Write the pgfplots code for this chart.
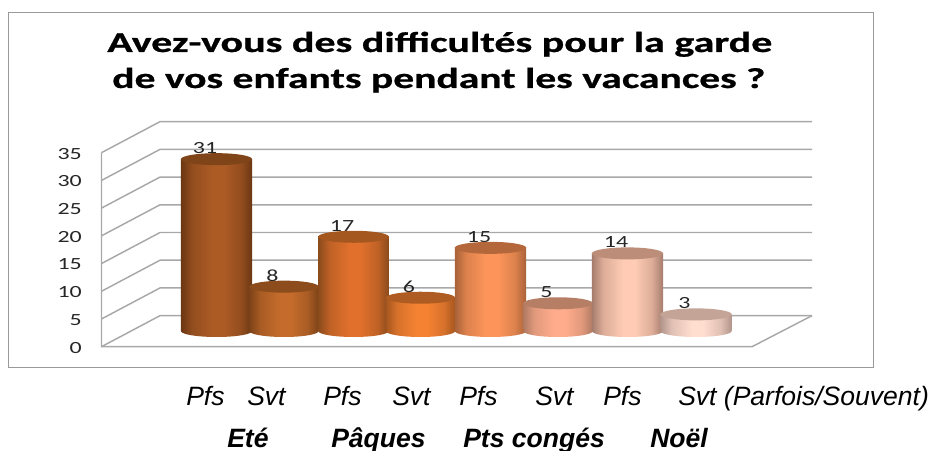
\documentclass[border=0pt]{standalone}
\usepackage{fontspec}
\usepackage{graphicx}
\usepackage{pgfplots}
\pgfplotsset{compat=1.18}
\usetikzlibrary{shapes.geometric}
\setmainfont{Liberation Sans}
\newfontfamily\carl[BoldFeatures={FakeBold=0.6}]{Carlito}
\newfontfamily\lab[FakeStretch=1.4]{Carlito}
\definecolor{gridc}{HTML}{A8A8A8}
\definecolor{framec}{HTML}{9A9A9A}
\definecolor{labc}{HTML}{262626}
% c<n>d edge, c<n>b bright centre, c<n>t top ellipse
\newcommand\mkcyl[4]{%
  \definecolor{c#1d}{HTML}{#2}\definecolor{c#1b}{HTML}{#3}\definecolor{c#1t}{HTML}{#4}%
  \colorlet{c#1m}{c#1b!62!c#1d}%
  \pgfdeclarehorizontalshading{cyl#1}{100bp}{color(0bp)=(c#1d); color(25bp)=(c#1d); color(33bp)=(c#1m); color(47bp)=(c#1b); color(55bp)=(c#1b); color(67bp)=(c#1m); color(75bp)=(c#1d); color(100bp)=(c#1d)}%
}
\mkcyl{1}{6B3713}{AC5B25}{7F4418}
\mkcyl{2}{7C4217}{C56C2C}{8C4C1C}
\mkcyl{3}{8A4A1C}{E0702C}{A4571F}
\mkcyl{4}{A5561F}{F58232}{AE5C22}
\mkcyl{5}{A86238}{FD955A}{B4673B}
\mkcyl{6}{B07A62}{FFAC8C}{B57E65}
\mkcyl{7}{A57C6C}{FFCBB4}{BC8E7A}
\mkcyl{8}{B1938A}{FFDDCF}{C4A496}
% x, value, bar width (pt), index
\newcommand\cyl[4]{%
  \addplot[draw=none,nodes near coords={},every node near coord/.style={shape=ellipse,inner sep=0pt,minimum width=#3pt,minimum height=9pt,anchor=center,shade,shading=cyl#4}] coordinates {(#1,0)};
  \addplot[ybar,bar shift=0pt,bar width=#3pt,draw=none,shade,shading=cyl#4] coordinates {(#1,#2)};
  \addplot[draw=none,nodes near coords,every node near coord/.style={anchor=center,inner sep=0pt,text=labc,xshift=-8.6pt,yshift=8.2pt,font=\lab\fontsize{12.8}{13}\selectfont},/pgf/number format/assume math mode=true] coordinates {(#1,#2)};
  \addplot[draw=none,nodes near coords={},every node near coord/.style={shape=ellipse,inner sep=0pt,minimum width=#3pt,minimum height=9pt,anchor=center,fill=c#4t}] coordinates {(#1,#2)};
}
\newcommand\wall[2]{\addplot[gridc,line width=1.1pt] coordinates {(101.5,#1)(160,#2)(812,#2)};}
\pgfplotsset{base/.style={at={(0,0)},anchor=south west,scale only axis,width=699pt,height=337.5pt,
  xmin=0,xmax=932,clip=false,axis line style={draw=none},tick style={draw=none},xtick=\empty}}
\begin{document}
\begin{tikzpicture}
\path[use as bounding box] (0,0) rectangle (699pt,337.5pt);
\begin{scope}[x=0.75pt,y=-0.75pt,shift={(0pt,337.5pt)}]
\draw[framec,line width=1pt] (8.2,12.2) rectangle (873.2,367.2);
\node[anchor=base west,inner sep=0pt] at (107,52) {\resizebox{498.75pt}{\height}{\carl\bfseries\fontsize{21.6}{24}\selectfont Avez-vous des difficultés pour la garde}};
\node[anchor=base west,inner sep=0pt] at (112,88) {\resizebox{489.75pt}{\height}{\carl\bfseries\fontsize{21.6}{24}\selectfont de vos enfants pendant les vacances ?}};
\end{scope}
% walls and value axis
\begin{axis}[base,ymin=-18.636,ymax=62.547,ytick={0,5,...,35},
  /pgf/number format/assume math mode=true,
  yticklabel style={anchor=east,inner sep=0pt,outer sep=0pt,xshift=61.3pt,yshift=-0.7pt,text=labc,font=\lab\fontsize{12.8}{13}\selectfont}]
\wall{0}{5.6}\wall{5}{10.6}\wall{10}{15.6}\wall{15}{20.6}\wall{20}{25.6}\wall{25}{30.6}\wall{30}{35.6}\wall{35}{40.6}
\addplot[gridc,line width=1.1pt] coordinates {(101.5,35)(101.5,0)(752,0)(812,5.6)};
\end{axis}
% cylinders
\begin{axis}[base,ymin=-21.469,ymax=59.715,ytick=\empty]
\cyl{216.5}{31}{53.4}{1}
\cyl{284}{8}{52}{2}
\cyl{353.5}{17}{53}{3}
\cyl{420.5}{6}{52}{4}
\cyl{490.5}{15}{53.6}{5}
\cyl{558}{5}{52.2}{6}
\cyl{627.5}{14}{53.4}{7}
\cyl{696}{3}{53.6}{8}
\end{axis}
\begin{scope}[x=0.75pt,y=-0.75pt,shift={(0pt,337.5pt)},every node/.style={anchor=base west,inner sep=0pt,text=black,font=\fontsize{19.9}{22}\selectfont}]
\node at (186,405) {\itshape Pfs};
\node at (247,405) {\itshape Svt};
\node at (323,405) {\itshape Pfs};
\node at (392,405) {\itshape Svt};
\node at (459,405) {\itshape Pfs};
\node at (535,405) {\itshape Svt};
\node at (603,405) {\itshape Pfs};
\node at (678,405) {\itshape Svt (Parfois/Souvent)};
\node at (227,447.5) {\bfseries\itshape Eté};
\node at (331,447.5) {\bfseries\itshape Pâques};
\node at (463,447.5) {\bfseries\itshape Pts congés};
\node at (650,447.5) {\bfseries\itshape Noël};
\end{scope}
\end{tikzpicture}
\end{document}
